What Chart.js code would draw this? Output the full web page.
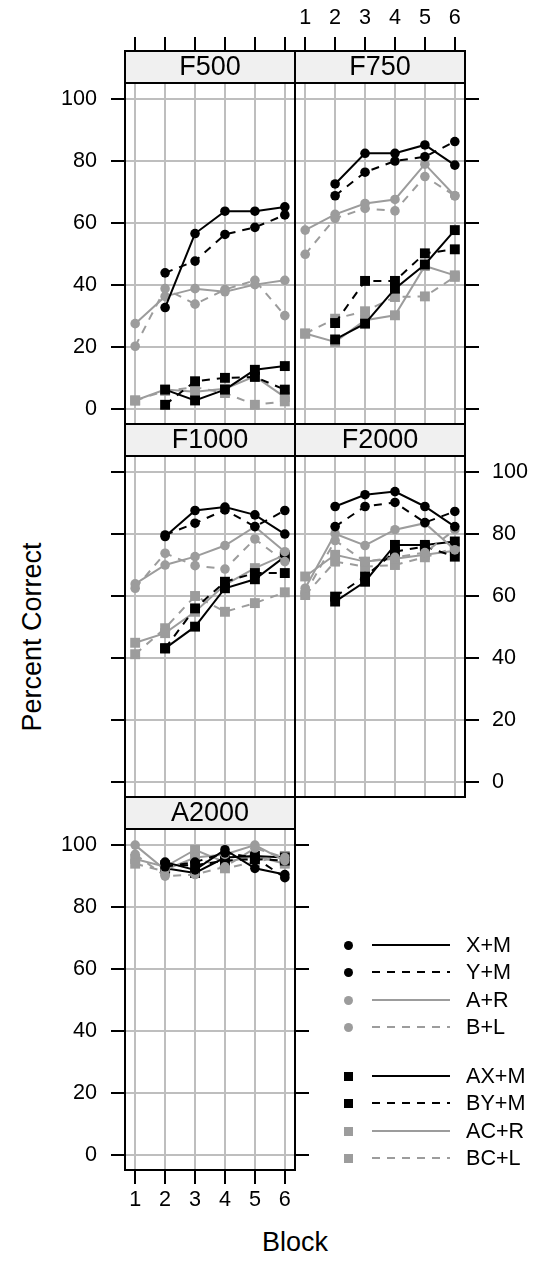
<!DOCTYPE html>
<html>
<head>
<meta charset="utf-8">
<script src="https://cdn.jsdelivr.net/npm/chart.js@4.4.1/dist/chart.umd.min.js"></script>
<style>
  body { margin: 0; background: #fff; font-family: 'Liberation Sans', Arial, sans-serif; }
  #page { position: relative; width: 533px; height: 1267px; overflow: hidden; background: #fff; }
  #page canvas { position: absolute; }
  .title { position: absolute; font-size: 27px; color: #000; white-space: nowrap; transform: translate(-50%, -50%); }
  .ylab { transform: translate(-50%, -50%) rotate(-90deg); }
  .key { position: absolute; }
  .keytext { position: absolute; font-size: 21.6px; color: #000; transform: translateY(-50%); white-space: nowrap; }
</style>
</head>
<body>
<div id="page">
  <div class="title ylab" style="left:32px; top:637px;">Percent Correct</div>
  <div class="title" style="left:295px; top:1242px;">Block</div>
</div>
<script>
// blocks on the x axis and the percent-correct ticks
const blocks = [1, 2, 3, 4, 5, 6];
const yTicks = [0, 20, 40, 60, 80, 100];
const seriesNames = ['X+M', 'Y+M', 'A+R', 'B+L', 'AX+M', 'BY+M', 'AC+R', 'BC+L'];

// percent correct by block, rows in the order of seriesNames
const f500 = [
  [null, 32.7, 56.6, 63.8, 63.8, 65.2],
  [null, 43.9, 47.7, 56.3, 58.6, 62.6],
  [27.5, 36.3, 38.8, 37.8, 40.1, 41.5],
  [20.2, 38.8, 33.8, 38.5, 41.5, 30.1],
  [null, 6.2, 2.7, 6.2, 12.6, 13.8],
  [null, 1.3, 8.9, 10.0, 10.3, 6.2],
  [2.7, 6.2, 5.5, 6.5, 10.5, 3.8],
  [2.7, 5.8, 7.0, 5.1, 1.3, 2.4]
];
const f750 = [
  [null, 72.6, 82.5, 82.5, 85.2, 78.7],
  [null, 68.8, 76.4, 80.0, 81.4, 86.3],
  [57.7, 62.8, 66.3, 67.6, 79.0, 68.8],
  [49.9, 61.5, 64.7, 63.9, 75.0, 68.8],
  [null, 22.4, 27.5, 38.8, 46.6, 57.7],
  [null, 27.7, 41.3, 41.3, 50.2, 51.5],
  [24.3, 21.6, 28.6, 30.2, 46.1, 43.1],
  [24.3, 29.1, 31.5, 36.1, 36.3, 42.6]
];
const f1000 = [
  [null, 79.2, 87.6, 88.7, 86.2, 80.0],
  [null, 79.7, 83.5, 87.8, 82.4, 87.6],
  [63.9, 70.0, 72.7, 76.3, 82.4, 74.3],
  [62.5, 73.8, 69.8, 68.7, 78.4, 71.1],
  [null, 43.1, 50.1, 62.5, 65.4, 72.7],
  [null, 43.1, 56.0, 64.6, 67.4, 67.4],
  [44.9, 48.0, 54.9, 63.6, 69.0, 73.3],
  [41.2, 49.6, 60.0, 54.9, 57.7, 61.2]
];
const f2000 = [
  [null, 88.9, 92.7, 93.7, 88.9, 82.4],
  [null, 82.4, 88.9, 90.2, 83.7, 87.3],
  [62.5, 80.1, 76.3, 81.4, 83.5, 74.9],
  [60.8, 77.9, 71.1, 72.5, 74.0, 81.4],
  [null, 58.2, 64.6, 76.5, 76.5, 77.6],
  [null, 59.8, 66.3, 74.3, 76.0, 72.7],
  [66.3, 73.3, 71.1, 72.0, 73.3, 74.6],
  [60.3, 71.1, 69.5, 70.0, 72.5, 75.5]
];
const a2000 = [
  [null, 94.5, 92.0, 98.5, 92.5, 90.5],
  [null, 93.0, 94.5, 97.5, 96.0, 89.5],
  [100, 92.0, 96.0, 97.0, 100, 95.0],
  [97.0, 90.0, 90.5, 93.0, 99.0, 96.0],
  [null, 92.5, 91.0, 96.0, 96.5, 96.0],
  [null, 93.5, 93.5, 95.0, 95.5, 95.0],
  [95.5, 93.0, 98.5, 94.5, 96.5, 94.0],
  [94.0, 91.5, 96.0, 92.5, 94.5, 96.5]
];

// look of each series
const BLACK = '#000000', GREY = '#9c9c9c', GRID = '#bebebe', STRIP = '#f0f0f0';
const DASH = [8, 7];
const seriesColor = [BLACK, BLACK, GREY, GREY, BLACK, BLACK, GREY, GREY];
const seriesDash = [[], DASH, [], DASH, [], DASH, [], DASH];
const seriesShape = ['circle', 'circle', 'circle', 'circle', 'rect', 'rect', 'rect', 'rect'];

// panel geometry
const FONT = "'Liberation Sans', Arial, sans-serif";
const PANEL_W = 170, PANEL_H = 373, STRIP_H = 32, M = 110;
const colX = [125, 295], rowY = [51, 424, 797];
const X_MIN = 0.66, X_MAX = 6.34;
const Y_MIN = -4.9, Y_TOP = 105.2;
const Y_MAX = Y_TOP + STRIP_H * (Y_TOP - Y_MIN) / (PANEL_H - STRIP_H);

Chart.defaults.font.family = FONT;
Chart.defaults.font.size = 21.6;
Chart.defaults.color = BLACK;

// mode: 'none' | 'ticks' | 'labels'
function axis(position, mode, onArea, pad) {
  const vertical = position === 'left' || position === 'right';
  return {
    type: 'linear',
    position: position,
    min: vertical ? Y_MIN : X_MIN,
    max: vertical ? Y_MAX : X_MAX,
    afterBuildTicks: function (s) {
      s.ticks = (vertical ? yTicks : blocks).map(v => ({ value: v }));
    },
    afterFit: function (s) {
      if (vertical) s.width = M; else s.height = M;
    },
    border: { display: false },
    grid: {
      display: true,
      drawOnChartArea: onArea,
      drawTicks: mode !== 'none',
      tickLength: 14,
      tickWidth: 2,
      tickColor: BLACK,
      color: GRID,
      lineWidth: 2
    },
    ticks: {
      display: mode === 'labels',
      padding: pad,
      autoSkip: false,
      maxRotation: 0,
      color: BLACK
    }
  };
}

const stripPlugin = {
  id: 'strip',
  beforeDatasetsDraw: function (chart, args, opts) {
    const a = chart.chartArea, ctx = chart.ctx;
    ctx.save();
    ctx.fillStyle = STRIP;
    ctx.fillRect(a.left, a.top, a.right - a.left, STRIP_H);
    ctx.strokeStyle = BLACK;
    ctx.lineWidth = 2;
    ctx.beginPath();
    ctx.moveTo(a.left, a.top + STRIP_H);
    ctx.lineTo(a.right, a.top + STRIP_H);
    ctx.stroke();
    ctx.fillStyle = BLACK;
    ctx.font = '27px ' + FONT;
    ctx.textAlign = 'center';
    ctx.textBaseline = 'middle';
    ctx.fillText(opts.text, (a.left + a.right) / 2, a.top + STRIP_H / 2 + 1);
    ctx.restore();
  },
  afterDraw: function (chart) {
    const a = chart.chartArea, ctx = chart.ctx;
    ctx.save();
    ctx.strokeStyle = BLACK;
    ctx.lineWidth = 2;
    ctx.strokeRect(a.left, a.top, a.right - a.left, a.bottom - a.top);
    ctx.restore();
  }
};

const panels = [
  { name: 'F500',  data: f500,  col: 0, row: 0, left: 'labels', right: 'none',   top: 'ticks',  bottom: 'none' },
  { name: 'F750',  data: f750,  col: 1, row: 0, left: 'none',   right: 'ticks',  top: 'labels', bottom: 'none' },
  { name: 'F1000', data: f1000, col: 0, row: 1, left: 'ticks',  right: 'none',   top: 'none',   bottom: 'none' },
  { name: 'F2000', data: f2000, col: 1, row: 1, left: 'none',   right: 'labels', top: 'none',   bottom: 'none' },
  { name: 'A2000', data: a2000, col: 0, row: 2, left: 'labels', right: 'ticks',  top: 'none',   bottom: 'labels' }
];

const page = document.getElementById('page');

panels.forEach(function (p) {
  const canvas = document.createElement('canvas');
  canvas.width = PANEL_W + 2 * M;
  canvas.height = PANEL_H + 2 * M;
  canvas.style.left = (colX[p.col] - M) + 'px';
  canvas.style.top = (rowY[p.row] - M) + 'px';
  page.appendChild(canvas);

  const datasets = seriesNames.map(function (name, i) {
    return {
      label: name,
      data: blocks.map((b, j) => ({ x: b, y: p.data[i][j] })),
      borderColor: seriesColor[i],
      backgroundColor: seriesColor[i],
      borderWidth: 2,
      borderDash: seriesDash[i],
      pointStyle: seriesShape[i],
      pointRadius: seriesShape[i] === 'rect' ? 7 : 4.8,
      pointBorderWidth: 0,
      pointBackgroundColor: seriesColor[i],
      tension: 0,
      fill: false
    };
  });

  new Chart(canvas, {
    type: 'line',
    data: { datasets: datasets },
    options: {
      responsive: false,
      animation: false,
      devicePixelRatio: 1,
      layout: { padding: 0 },
      scales: {
        x: axis('bottom', p.bottom, true, 3),
        xTop: axis('top', p.top, false, 6),
        y: axis('left', p.left, true, 14),
        yRight: axis('right', p.right, false, 13)
      },
      plugins: {
        legend: { display: false },
        tooltip: { enabled: false },
        strip: { text: p.name }
      }
    },
    plugins: [stripPlugin]
  });
});

// key at the lower right
const keyRows = [945, 972, 1000, 1027, 1076, 1103, 1131, 1158];
seriesNames.forEach(function (name, i) {
  const y = keyRows[i];
  const mark = document.createElement('div');
  mark.className = 'key';
  const size = 9;
  mark.style.cssText = 'left:' + (348 - size / 2) + 'px; top:' + (y - size / 2) + 'px; width:' + size + 'px; height:' + size + 'px; background:' + seriesColor[i] + ';' + (seriesShape[i] === 'circle' ? 'border-radius:50%;' : '');
  page.appendChild(mark);

  const line = document.createElement('div');
  line.className = 'key';
  const bg = seriesDash[i].length
    ? 'repeating-linear-gradient(90deg, ' + seriesColor[i] + ' 0 8px, transparent 8px 15px)'
    : seriesColor[i];
  line.style.cssText = 'left:372px; top:' + (y - 1) + 'px; width:78px; height:2px; background:' + bg + ';';
  page.appendChild(line);

  const txt = document.createElement('div');
  txt.className = 'keytext';
  txt.style.left = '466px';
  txt.style.top = y + 'px';
  txt.textContent = name;
  page.appendChild(txt);
});
</script>
</body>
</html>
